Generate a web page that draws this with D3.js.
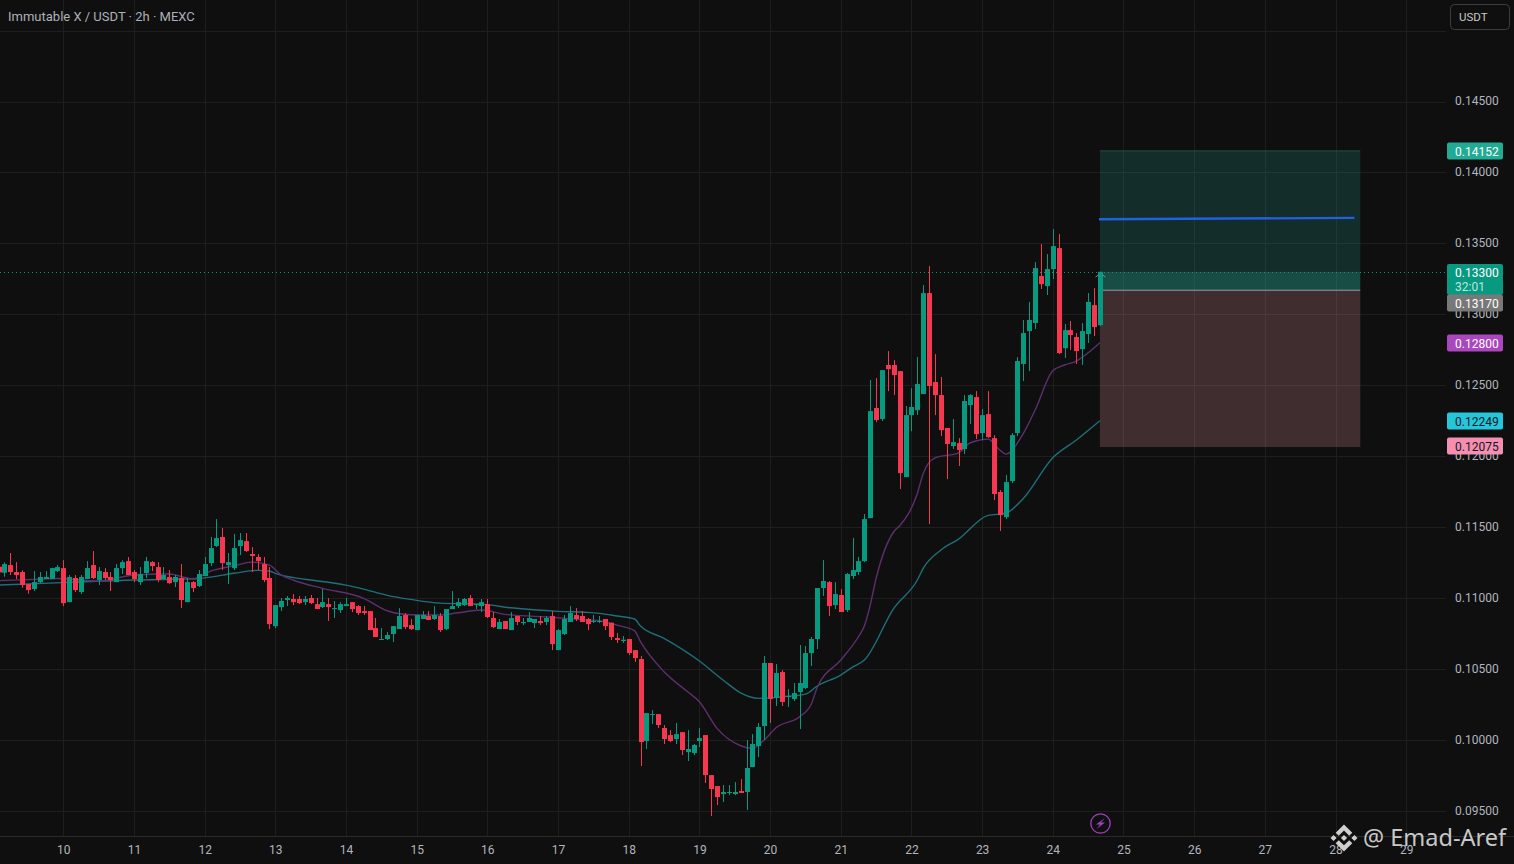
<!DOCTYPE html>
<html><head><meta charset="utf-8">
<script src="https://cdn.jsdelivr.net/npm/d3@7"></script>
<style>html,body{margin:0;padding:0;background:#0f0f0f;overflow:hidden}svg{display:block}text{font-family:Roboto,"Noto Sans",sans-serif}</style>
</head><body><svg id="c" width="1514" height="864"></svg>
<script>
const title = "Immutable X / USDT · 2h · MEXC";
const dayLabels = [10,11,12,13,14,15,16,17,18,19,20,21,22,23,24,25,26,27,28,29];
const priceTicks = [0.145,0.14,0.135,0.13,0.125,0.12,0.115,0.11,0.105,0.1,0.095];
const gridOnly = [0.15];
const opens = [
.11221,.11179,.11233,.11184,.11184,.11099,.11064,.11113,.11135,.11135,
.11191,.11212,.10972,.11142,.11043,.11135,.11233,.11128,.11184,.11149,
.11113,.11212,.11261,.11184,.11113,.11177,.11254,.11219,.11135,.11149,
.11113,.11142,.10972,.11113,.11085,.11156,.11247,.11367,.11431,.11233,
.11212,.11367,.11402,.11311,.11290,.11240,.11142,.10803,.10937,.10987,
.10994,.10994,.10972,.11001,.10958,.10937,.10958,.10923,.10916,.10944,
.10972,.10944,.10909,.10909,.10789,.10705,.10712,.10747,.10782,.10881,
.10810,.10775,.10853,.10874,.10853,.10874,.10782,.10923,.10944,.10951,
.11001,.10951,.10944,.10958,.10860,.10782,.10839,.10775,.10874,.10824,
.10832,.10824,.10839,.10832,.10874,.10634,.10747,.10832,.10881,.10874,
.10853,.10832,.10832,.10853,.10827,.10719,.10698,.10712,.10634,.10571,
.09993,.10176,.10183,.10085,.10035,.10007,.10056,.09915,.09908,.09993,
.10035,.09753,.09676,.09619,.09627,.09619,.09641,.09634,.09810,.09958,
.10099,.10543,.10296,.10479,.10303,.10289,.10338,.10367,.10613,.10712,
.11071,.11113,.10951,.11022,.10916,.11156,.11184,.11261,.11564,.12340,
.12262,.12643,.12643,.12600,.11853,.12290,.12325,.12438,.13150,.12523,
.12431,.12199,.12072,.12093,.12051,.12361,.12417,.12163,.12297,.12128,
.11748,.11571,.11825,.12163,.12650,.12882,.12939,.13270,.13199,.13319,
.13467,.12762,.12889,.12840,.12755,.12861,.13065,.12924];
const highs = [
.11245,.11252,.11318,.11254,.11196,.11099,.11191,.11184,.11191,.11212,
.11233,.11268,.11163,.11163,.11163,.11261,.11332,.11219,.11212,.11184,
.11240,.11268,.11290,.11198,.11219,.11290,.11261,.11254,.11219,.11198,
.11163,.11240,.11142,.11120,.11198,.11290,.11431,.11557,.11494,.11318,
.11452,.11459,.11459,.11360,.11311,.11290,.11219,.10951,.11001,.11015,
.11029,.11015,.11015,.11022,.11001,.11064,.11001,.10980,.10972,.11001,
.10972,.10951,.10944,.10909,.10860,.10789,.10761,.10803,.10930,.10895,
.10853,.10881,.10909,.10909,.10944,.10895,.10923,.11050,.11001,.11001,
.11022,.10958,.10994,.10994,.10902,.10853,.10839,.10902,.10874,.10860,
.10902,.10853,.10874,.10874,.10909,.10782,.10881,.10944,.10930,.10909,
.10860,.10881,.10874,.10853,.10827,.10754,.10733,.10712,.10634,.10592,
.10190,.10211,.10183,.10106,.10070,.10120,.10056,.10070,.09972,.10085,
.10035,.09753,.09676,.09683,.09683,.09704,.09725,.10000,.10042,.10120,
.10592,.10543,.10536,.10493,.10359,.10402,.10670,.10662,.10726,.11071,
.11268,.11121,.11113,.11064,.11177,.11424,.11290,.11593,.12537,.12551,
.12607,.12741,.12678,.12600,.12354,.12480,.12699,.13206,.13340,.12720,
.12558,.12199,.12262,.12128,.12431,.12438,.12459,.12333,.12459,.12149,
.11762,.11867,.12163,.12699,.12960,.13087,.13368,.13495,.13425,.13601,
.13566,.12931,.12953,.12868,.12939,.13150,.13185,.13300];
const lows = [
.11177,.11151,.11163,.11135,.11073,.11031,.11050,.11106,.11135,.11135,
.11184,.10944,.10972,.11043,.11029,.11135,.11135,.11092,.11128,.11050,
.11113,.11170,.11163,.11113,.11092,.11142,.11191,.11113,.11135,.11099,
.11078,.10930,.10972,.11043,.11078,.11156,.11226,.11360,.11198,.11099,
.11198,.11304,.11325,.11184,.11198,.11113,.10782,.10789,.10909,.10944,
.10951,.10958,.10951,.10958,.10923,.10930,.10839,.10860,.10895,.10944,
.10902,.10881,.10881,.10775,.10726,.10705,.10705,.10691,.10782,.10782,
.10775,.10775,.10853,.10846,.10846,.10761,.10775,.10923,.10930,.10944,
.10944,.10923,.10902,.10860,.10789,.10782,.10782,.10775,.10810,.10810,
.10832,.10789,.10810,.10810,.10634,.10634,.10740,.10832,.10839,.10832,
.10775,.10824,.10824,.10775,.10705,.10684,.10684,.10599,.10550,.09817,
.09937,.10113,.10085,.09972,.09986,.09972,.09894,.09852,.09894,.09951,
.09697,.09464,.09542,.09563,.09612,.09612,.09627,.09507,.09810,.09880,
.10000,.10120,.10240,.10240,.10233,.10275,.10077,.10359,.10522,.10641,
.11015,.10874,.10923,.10902,.10902,.11135,.11163,.11254,.11564,.12241,
.12248,.12459,.12431,.11769,.11853,.12177,.12290,.12438,.11522,.12290,
.12142,.11839,.12051,.11931,.12015,.12227,.12121,.12114,.12128,.11691,
.11473,.11557,.11811,.12142,.12530,.12600,.12896,.13178,.13136,.13249,
.12720,.12692,.12748,.12650,.12643,.12798,.12847,.12917];
const closes = [
.11182,.11240,.11184,.11163,.11092,.11057,.11113,.11149,.11149,.11212,
.11219,.10965,.11149,.11057,.11149,.11212,.11142,.11191,.11142,.11128,
.11212,.11254,.11163,.11135,.11170,.11261,.11226,.11128,.11163,.11106,
.11149,.10987,.11113,.11071,.11170,.11240,.11353,.11423,.11247,.11254,
.11353,.11409,.11332,.11297,.11261,.11128,.10817,.10951,.10980,.11001,
.10972,.10965,.10994,.10965,.10923,.10972,.10937,.10930,.10958,.10958,
.10923,.10895,.10895,.10775,.10726,.10712,.10740,.10803,.10874,.10796,
.10782,.10881,.10881,.10846,.10881,.10775,.10923,.10944,.10972,.10994,
.10944,.10958,.10972,.10867,.10796,.10832,.10782,.10860,.10832,.10832,
.10860,.10853,.10824,.10860,.10676,.10775,.10853,.10895,.10853,.10832,
.10817,.10839,.10839,.10803,.10726,.10705,.10707,.10613,.10578,.09986,
.10190,.10183,.10106,.10007,.09993,.10042,.09930,.09937,.09965,.10014,
.09753,.09655,.09598,.09634,.09634,.09634,.09627,.09803,.09972,.10092,
.10543,.10289,.10472,.10268,.10310,.10331,.10402,.10613,.10712,.11071,
.11121,.10944,.11029,.10902,.11170,.11198,.11261,.11557,.12318,.12255,
.12607,.12614,.12572,.11881,.12290,.12347,.12509,.13150,.12495,.12431,
.12184,.12086,.12100,.12044,.12389,.12431,.12156,.12290,.12135,.11734,
.11585,.11818,.12149,.12671,.12868,.12960,.13326,.13213,.13319,.13481,
.12727,.12889,.12854,.12741,.12882,.13087,.12910,.13300];
const slowIdx = [0,12,23,34,40,44,46,47,51,53,59,62,66,70,75,82,87,95,100,102,105,108,109,113,119,123,126,129,133,137,139,143,145,147,152,156,157,160,163,168,171,174,179,183,187];
const slowMA = [.11092,.11111,.11128,.11139,.11175,.11196,.11191,.11175,.11139,.11128,.11092,.11064,.11020,.10991,.10965,.10958,.10932,.10907,.10900,.10893,.10874,.10853,.10803,.10717,.10557,.10423,.10333,.10294,.10305,.10324,.10381,.10458,.10514,.10564,.10928,.11128,.11210,.11339,.11416,.11583,.11598,.11703,.11989,.12114,.12250];
const fastIdx = [0,6,10,17,23,29,33,36,40,43,46,48,50,55,62,66,70,75,78,82,86,94,99,102,105,108,109,113,117,119,122,126,128,130,132,136,138,139,143,146,147,148,149,152,153,156,157,159,163,165,168,170,171,174,176,179,181,183,185,187];
const fastMA = [.11123,.11132,.11139,.11120,.11163,.11170,.11135,.11191,.11228,.11254,.11233,.11163,.11128,.11069,.10999,.10911,.10883,.10881,.10897,.10916,.10886,.10865,.10849,.10841,.10810,.10770,.10693,.10481,.10340,.10270,.10082,.09960,.09942,.10000,.10087,.10164,.10254,.10371,.10564,.10728,.10803,.10951,.11139,.11468,.11510,.11738,.11879,.11989,.12024,.12095,.12121,.12044,.12015,.12161,.12326,.12602,.12643,.12671,.12729,.12800];
const lastPrice = 0.133;
const zoneStart = 187, zoneEnd = 231.2, targetEnd = 230.2;
const targetPrice = 0.14152, entryPrice = 0.1317, stopPrice = 0.12065;
const blueLine = [0.13670, 0.13680];
const tags = [
 {v:0.14152,t:"0.14152",bg:"#22ab94",fg:"#ffffff"},
 {v:0.12800,t:"0.12800",bg:"#ab47bc",fg:"#ffffff"},
 {v:0.12249,t:"0.12249",bg:"#26c6da",fg:"#131722"},
 {v:0.12075,t:"0.12075",bg:"#f48fb1",fg:"#131722"}];

const svg = d3.select("#c");
const W=1514,H=864,plotR=1446,axisY=836;
const x = d3.scaleLinear().domain([11,239]).range([63.3,1406.2]);
const y = d3.scaleLinear().domain([0.095,0.145]).range([811,101.5]);
const dayIdx = d => 11+(d-10)*12;
const g = svg.append("g");
g.selectAll(".vg").data(dayLabels).join("line").attr("x1",d=>Math.round(x(dayIdx(d)))+.5).attr("x2",d=>Math.round(x(dayIdx(d)))+.5).attr("y1",0).attr("y2",axisY).attr("stroke","#1e1e1e");
g.selectAll(".hg").data(priceTicks.concat(gridOnly)).join("line").attr("x1",0).attr("x2",plotR).attr("y1",d=>Math.round(y(d))+.5).attr("y2",d=>Math.round(y(d))+.5).attr("stroke","#1e1e1e");
svg.append("line").attr("x1",0).attr("x2",W).attr("y1",axisY+.5).attr("y2",axisY+.5).attr("stroke","#2a2a2a");

// position tool
const zx0=x(zoneStart),zw=x(zoneEnd)-x(zoneStart);
svg.append("rect").attr("x",zx0).attr("y",y(targetPrice)).attr("width",zw).attr("height",y(lastPrice)-y(targetPrice)).attr("fill","rgba(34,171,148,.2)");
svg.append("rect").attr("x",zx0).attr("y",y(lastPrice)).attr("width",zw).attr("height",y(entryPrice)-y(lastPrice)).attr("fill","rgba(34,171,148,.4)");
svg.append("rect").attr("x",zx0).attr("y",y(entryPrice)).attr("width",zw).attr("height",y(stopPrice)-y(entryPrice)).attr("fill","rgba(250,160,170,.21)");
svg.append("line").attr("x1",zx0).attr("x2",zx0+zw).attr("y1",y(targetPrice)).attr("y2",y(targetPrice)).attr("stroke","#2c4c46");
svg.append("line").attr("x1",zx0).attr("x2",zx0+zw).attr("y1",y(entryPrice)).attr("y2",y(entryPrice)).attr("stroke","#9a9a9a").attr("stroke-width",1);
svg.append("line").attr("x1",x(zoneStart)-1).attr("x2",x(targetEnd)).attr("y1",y(blueLine[0])).attr("y2",y(blueLine[1])).attr("stroke","#2160e0").attr("stroke-width",2.4);

// last price line
svg.append("line").attr("x1",0).attr("x2",plotR).attr("y1",Math.round(y(lastPrice))+.5).attr("y2",Math.round(y(lastPrice))+.5).attr("stroke","#089981").attr("stroke-dasharray","1 3");

// moving averages
const lineGen = (ids)=>d3.line().x((d,i)=>x(ids[i])).y(d=>y(d)).curve(d3.curveMonotoneX);
svg.append("path").attr("d",lineGen(slowIdx)(slowMA)).attr("fill","none").attr("stroke","#1f6f7a").attr("stroke-width",1.4);
svg.append("path").attr("d",lineGen(fastIdx)(fastMA)).attr("fill","none").attr("stroke","#5e2f6e").attr("stroke-width",1.4);

// candles
const GREEN="#089981",RED="#f7374f";
const candles = opens.map((o,i)=>({i,o,h:highs[i],l:lows[i],c:closes[i]}));
const cg = svg.append("g");
cg.selectAll(".w").data(candles).join("line").attr("x1",d=>Math.round(x(d.i)))
 .attr("x2",d=>Math.round(x(d.i))).attr("y1",d=>y(d.h)).attr("y2",d=>y(d.l)).attr("transform","translate(0.5,0)")
 .attr("stroke",d=>d.c>=d.o?GREEN:RED);
cg.selectAll(".b").data(candles).join("rect").attr("x",d=>Math.round(x(d.i))-2).attr("width",5)
 .attr("y",d=>y(Math.max(d.o,d.c))).attr("height",d=>Math.max(1,Math.abs(y(d.o)-y(d.c))))
 .attr("fill",d=>d.c>=d.o?GREEN:RED);
// handle mark on the last candle
const lx=Math.round(x(187))+.5;
svg.append("path").attr("d",`M${lx-5},277 L${lx-2},275 M${lx+2},275 L${lx+5},277`).attr("fill","none").attr("stroke","#8a8a8a").attr("stroke-width",1);

// title + axes
svg.append("text").attr("x",8).attr("y",20.5).attr("font-size",13).attr("fill","#aeb0b8").text(title);
svg.selectAll(".dl").data(dayLabels).join("text").attr("x",d=>x(dayIdx(d))+.5).attr("y",854).attr("text-anchor","middle").attr("font-size",12).attr("fill","#b2b5be").text(d=>d);
svg.selectAll(".pl").data(priceTicks).join("text").attr("x",1455).attr("y",d=>y(d)+3.9).attr("font-size",12).attr("fill","#b2b5be").text(d=>d.toFixed(5));

// tags
const tg = svg.selectAll(".tag").data(tags).join("g").attr("transform",d=>`translate(1447,${Math.round(y(d.v))-8.5})`);
tg.append("rect").attr("width",56).attr("height",17).attr("rx",2).attr("fill",d=>d.bg);
tg.append("text").attr("x",8).attr("y",13).attr("font-size",12).attr("fill",d=>d.fg).text(d=>d.t);
const lg = svg.append("g").attr("transform",`translate(1447,${Math.round(y(lastPrice))-8})`);
lg.append("rect").attr("width",56).attr("height",31).attr("rx",2).attr("fill","#089981");
lg.append("text").attr("x",8).attr("y",13).attr("font-size",12).attr("fill","#fff").text("0.13300");
lg.append("text").attr("x",8).attr("y",26.5).attr("font-size",12).attr("fill","#bfe6dd").text("32:01");
const gy=svg.append("g").attr("transform",`translate(1447,${Math.round(y(0.1317))+4.5})`);
gy.append("rect").attr("width",56).attr("height",17).attr("rx",2).attr("fill","#787878");
gy.append("text").attr("x",8).attr("y",13).attr("font-size",12).attr("fill","#fff").text("0.13170");

// USDT button
svg.append("rect").attr("x",1450.5).attr("y",4.5).attr("width",59).attr("height",25).attr("rx",4).attr("fill","none").attr("stroke","#3d3d3d");
svg.append("text").attr("x",1459).attr("y",21).attr("font-size",11.5).attr("fill","#c8c8c8").text("USDT");

// bolt icon
const bolt=svg.append("g").attr("transform","translate(1100.5,823.5)");
bolt.append("circle").attr("r",9.7).attr("fill","none").attr("stroke","#a23fc0").attr("stroke-width",1.3);
bolt.append("path").attr("d","M4.5,-5.5 L-4.5,1 L-0.5,1 L-4,5.5 L4.5,-1 L0.5,-1 Z").attr("fill","#a23fc0");

// watermark
svg.append("path").attr("transform","translate(1330.5,824.5) scale(0.213)").attr("fill","#cfcfcf")
 .attr("d","m38.73 53.2 24.59-24.58 24.6 24.6 14.3-14.31L63.32 0 24.43 38.9l14.3 14.3zM0 63.31l14.3-14.31 14.31 14.31-14.31 14.3zM38.73 73.41l24.59 24.59 24.6-24.6 14.31 14.29h-.01L63.32 126.61 24.42 87.72l-.02-.02zM98 63.31l14.3-14.31 14.31 14.3-14.31 14.32zM77.83 63.3 63.32 48.78 52.59 59.51l-1.24 1.23-2.54 2.54 14.51 14.52 14.51-14.51z");
svg.append("text").attr("x",1363).attr("y",846).attr("font-size",23.5).attr("fill","#c8c8c8").style("font-family","'Noto Sans'").text("@ Emad-Aref");
</script></body></html>
